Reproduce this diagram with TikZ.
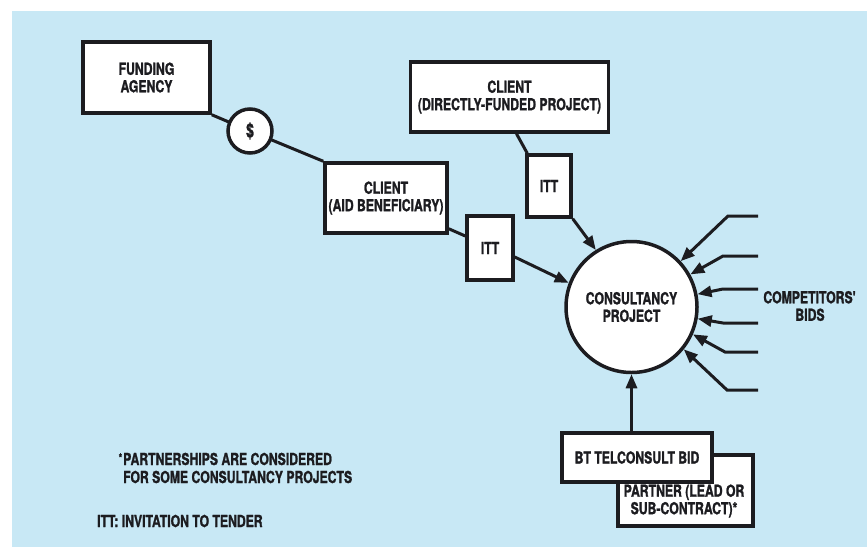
\documentclass[tikz,border=0pt]{standalone}
\usepackage{fontspec}
\setmainfont{TeX Gyre Heros}[FakeStretch=0.74,BoldFeatures={FakeBold=1.3}]
\usetikzlibrary{arrows.meta,calc}
\definecolor{bg}{RGB}{200,232,245}
\definecolor{ink}{RGB}{28,28,32}
\newcommand{\lblfont}{\fontsize{16.5}{17.5}\selectfont\bfseries}
\begin{document}
\begin{tikzpicture}[x=1pt,y=-1pt,
  box/.style={draw=ink,fill=white,line width=3.5pt,align=center,inner sep=2pt,font=\lblfont,text=ink},
  conn/.style={draw=ink,line width=3pt},
  arr/.style={conn,-{Triangle[length=14pt,width=11pt]}},
  lbl/.style={font=\lblfont,text=ink,inner sep=0pt}
]
\useasboundingbox (0,0) rectangle (867,547);
\fill[white] (0,0) rectangle (867,547);
\fill[bg] (12,11) rectangle (867,547);

\coordinate (faC) at (146.5,77.5);
\coordinate (dC) at (250,131);
\coordinate (aidC) at (386,198);

\node[box,minimum width=127pt,minimum height=71pt] (fa) at (faC) {FUNDING\\AGENCY};
\node[box,minimum width=122pt,minimum height=70pt] (aid) at (aidC) {CLIENT\\(AID BENEFICIARY)};
\node[box,minimum width=198pt,minimum height=70pt] (df) at (509.5,97) {CLIENT\\(DIRECTLY-FUNDED PROJECT)};
\node[box,minimum width=44pt,minimum height=62pt] (itt1) at (549,186) {ITT};
\node[box,minimum width=46pt,minimum height=64pt] (itt2) at (490,248) {ITT};
\node[box,circle,minimum size=131pt,inner sep=0pt] (cp) at (631.5,307) {CONSULTANCY\\PROJECT};
\node[box,minimum width=135pt,minimum height=71pt] (partner) at (685.5,490.5) {};
\node[lbl,align=center] (ptxt) at (684,501) {PARTNER (LEAD OR\\SUB-CONTRACT)*};
\node[box,minimum width=150pt,minimum height=49pt] (bt) at (637,457.5) {BT TELCONSULT BID};

\draw[conn] (fa.south east) -- (dC);
\draw[conn] (dC) -- (aid.north west);
\node[box,circle,minimum size=44pt,inner sep=0pt,font=\fontsize{19}{20}\selectfont\bfseries] (dollar) at (dC) {\$};

\draw[conn] ($(df.south)+(7,0)$) -- ($(itt1.north west)+(2,0)$);
\draw[conn] ($(aid.south east)+(0,-6)$) -- ($(itt2.west)+(0,-12)$);
\draw[arr] (itt1.south east) -- (cp.122);
\draw[arr] ($(itt2.east)+(0,9)$) -- (cp.159);
\draw[arr] (bt.north -| cp.south) -- (cp.south);

% competitors' bids
\coordinate (c1) at (758,216);
\coordinate (c2) at (758,256);
\coordinate (c3) at (758,289);
\coordinate (c4) at (758,323);
\coordinate (c5) at (758,352);
\coordinate (c6) at (758,390);
\draw[arr] (c1) -- ++(-30,0) -- (cp.43);
\draw[arr] (c2) -- ++(-35,0) -- (cp.29);
\draw[arr] (c3) -- ++(-35,0) -- (cp.11);
\draw[arr] (c4) -- ++(-35,0) -- (cp.-10);
\draw[arr] (c5) -- ++(-33,0) -- (cp.-24);
\draw[arr] (c6) -- ++(-31,0) -- (cp.-39);
\node[lbl,align=center] (comp) at (810,306) {COMPETITORS\textquotesingle\\BIDS};

% footnotes
\node[lbl,anchor=base west] (fn1) at (123,465) {\llap{\raisebox{3pt}{\fontsize{12}{12}\selectfont *}\kern1pt}PARTNERSHIPS ARE CONSIDERED};
\node[lbl,anchor=base west] (fn2) at (123,483) {FOR SOME CONSULTANCY PROJECTS};
\node[lbl,anchor=base west] (fn3) at (97,527) {ITT: INVITATION TO TENDER};
\end{tikzpicture}
\end{document}
